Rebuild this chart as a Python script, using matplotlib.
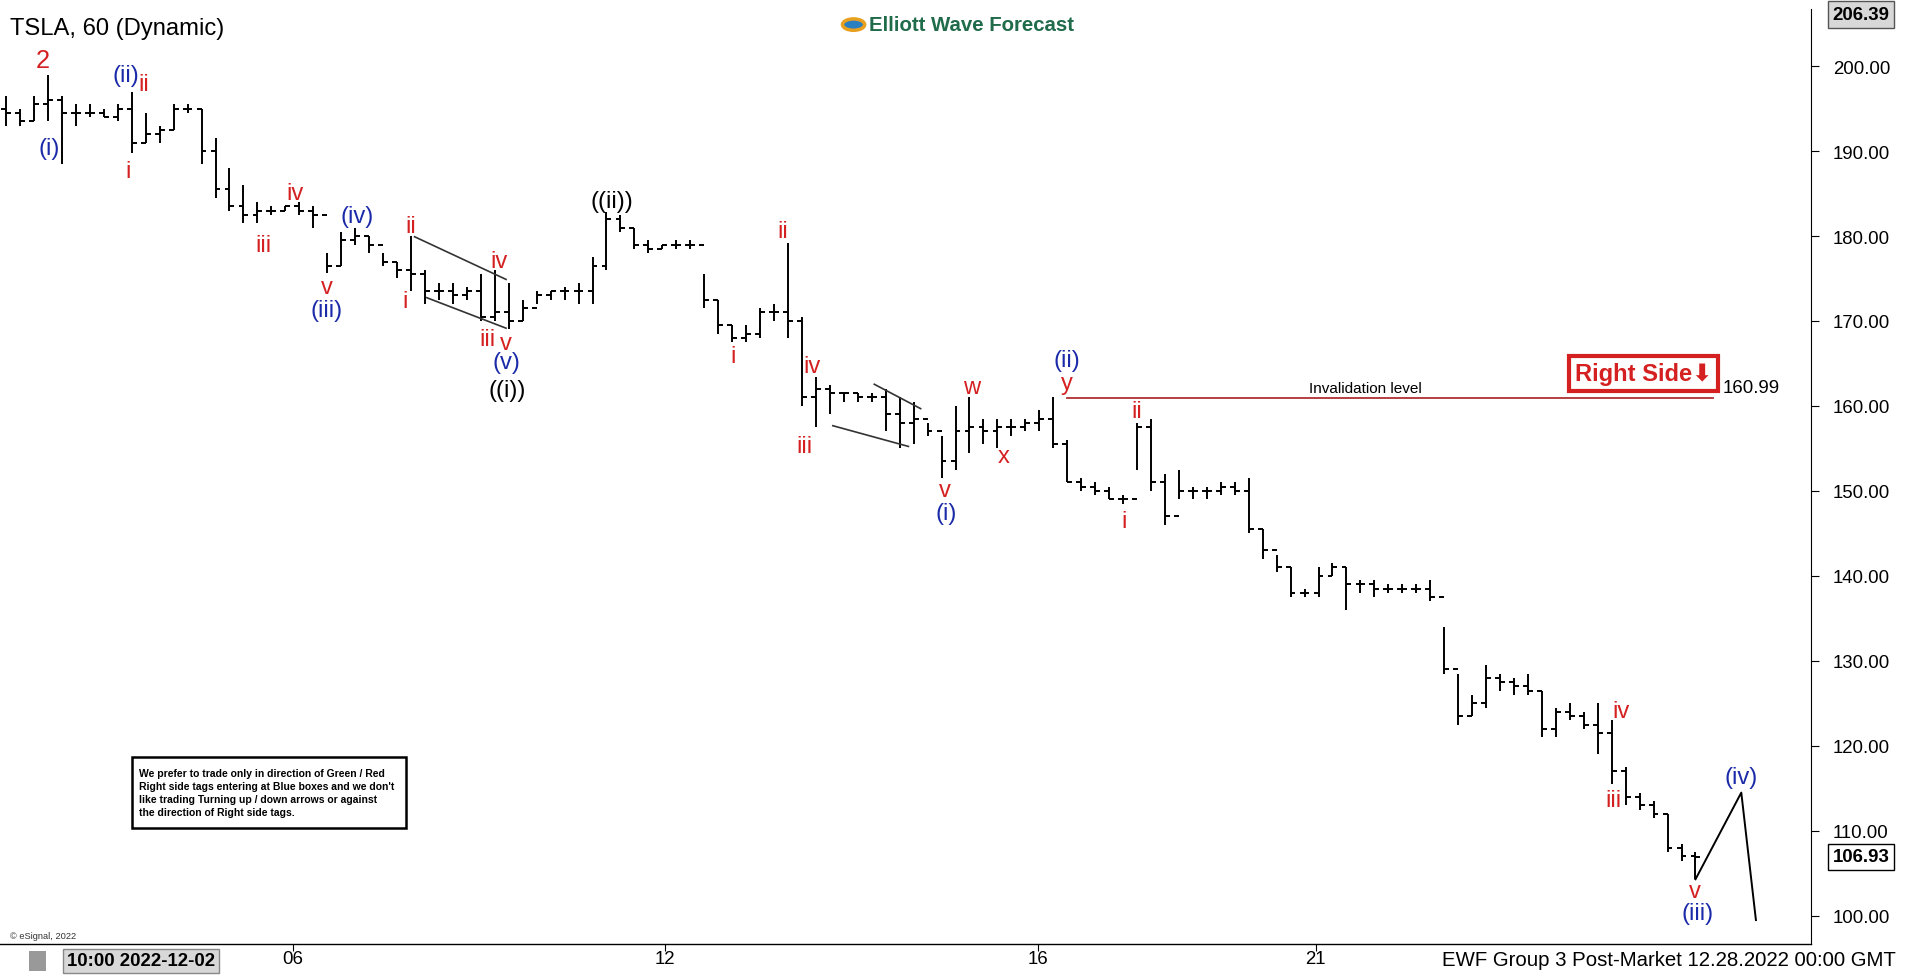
import matplotlib
matplotlib.use("Agg")
import matplotlib.pyplot as plt
from matplotlib.lines import Line2D
from matplotlib.patches import Rectangle

plt.rcParams['font.family'] = ['Liberation Sans', 'DejaVu Sans']

# ---- data (hourly bars) ----
highs = [196.5,195.0,196.5,199.0,196.5,195.5,195.5,195.0,195.5,197.0,194.5,193.0,195.5,195.5,195.0,191.5,188.0,186.0,184.0,183.5,183.5,184.0,183.5,178.0,180.5,181.0,180.0,178.0,177.0,180.0,176.0,174.5,174.5,174.0,175.5,176.0,174.5,172.5,173.5,173.5,174.0,174.5,177.5,182.8,182.5,181.0,179.5,179.0,179.5,179.5,175.5,172.5,169.5,169.5,171.5,172.0,179.2,170.5,163.4,162.5,161.5,161.5,161.5,162.0,161.0,160.5,158.0,156.5,160.0,161.0,158.5,158.5,158.5,158.5,159.5,161.0,156.0,151.5,151.0,150.5,149.5,158.0,158.5,152.0,152.5,150.5,150.5,151.0,151.0,151.5,145.5,142.5,141.0,138.5,141.0,141.5,141.0,139.5,139.5,139.0,139.0,139.0,139.5,134.0,128.5,126.0,129.5,128.5,128.0,128.5,126.5,124.5,125.0,124.0,125.0,123.0,117.5,114.5,113.5,112.0,108.5,107.5]
lows = [193.0,193.0,193.5,193.5,188.5,193.0,194.0,194.0,193.5,189.8,191.0,191.0,192.5,194.5,188.5,184.5,183.0,181.5,181.5,182.5,183.0,182.5,181.0,175.6,176.5,179.0,178.0,176.5,175.0,173.5,172.0,172.5,172.0,172.5,170.0,170.0,169.0,170.0,172.0,172.5,172.5,172.0,172.0,176.0,180.5,178.5,178.0,178.5,178.5,178.5,171.5,168.5,167.5,167.5,168.0,170.0,168.0,160.0,157.5,159.0,160.5,160.5,160.5,157.0,155.0,155.5,156.5,151.5,152.5,154.5,155.5,155.0,156.5,157.0,157.0,155.0,151.0,150.0,149.5,149.0,148.5,152.5,150.0,146.0,149.0,149.0,149.0,149.5,149.5,145.0,142.0,140.5,137.5,137.5,137.5,140.0,136.0,138.0,137.5,138.0,138.0,138.0,137.0,128.5,122.5,123.5,124.5,126.5,126.0,126.0,121.0,121.0,123.0,122.0,119.0,115.5,113.0,112.5,111.5,107.5,106.5,104.3]
closes = [194.5,193.5,195.5,196.0,194.5,194.5,194.5,194.0,195.0,191.0,192.0,192.5,195.0,195.0,190.0,185.5,183.5,182.5,183.0,183.0,183.5,183.0,182.5,176.5,179.5,180.0,179.0,177.0,176.0,175.5,173.5,173.5,173.0,173.5,170.5,171.0,170.0,171.5,173.0,173.5,173.5,173.5,176.5,182.0,181.0,179.0,178.5,179.0,179.0,179.0,172.5,169.5,168.0,168.5,171.0,171.0,170.0,161.0,162.0,161.5,161.5,161.0,161.0,159.0,158.0,158.5,157.0,153.5,157.0,157.5,157.0,157.5,157.5,158.0,158.5,155.5,151.0,150.5,150.0,149.0,149.0,157.5,151.0,147.0,150.0,150.0,150.0,150.5,150.0,145.5,143.0,141.0,138.0,138.0,140.0,141.0,139.0,139.0,138.5,138.5,138.5,138.5,137.5,129.0,123.5,125.0,128.0,127.5,127.0,126.5,122.0,124.0,123.5,122.5,121.5,117.0,114.0,113.0,112.0,108.0,107.0,106.93]
proj_prices = [104.3, 114.5, 99.5]
yticks = [100, 110, 120, 130, 140, 150, 160, 170, 180, 190, 200]
date_labels = ["06", "12", "16", "21"]
date_px = [240, 545, 851, 1079]
last_price = 106.93
top_price = 206.39
invalid_level = 160.99

# layout measured on a 1568x803 view of the 1912x979 chart
W, H = 1568, 803
S = 1912 / W
fig = plt.figure(figsize=(19.12, 9.79), dpi=100)
fig.patch.set_facecolor("white")
def fx(px): return px / W
def fy(py): return 1 - py / H
def fs(v): return v * S

ax_top, ax_bot, ax_right = 8, 775, 1485
ax = fig.add_axes([0, fy(ax_bot), fx(ax_right), (ax_bot-ax_top)/H])
n = len(closes)
x0, dx = 5, 11.45
def px2i(px): return (px - x0) / dx
def py2p(py): return 200 - (py - 55) / 6.97
ax.set_xlim(px2i(0), px2i(ax_right))
ax.set_ylim(py2p(ax_bot), py2p(ax_top))

idx = list(range(n))
opens = [closes[0] + 0.5] + closes[:-1]
lw = 1.4
ax.vlines(idx, lows, highs, color="black", lw=lw)
ax.hlines(opens, [i - 0.35 for i in idx], idx, color="black", lw=lw)
ax.hlines(closes, idx, [i + 0.35 for i in idx], color="black", lw=lw)

ax.plot([n - 1, px2i(1428), px2i(1440)], proj_prices, color="black", lw=lw)
ax.plot([76, px2i(1405)], [invalid_level, invalid_level], color="#b03030", lw=1.3)
ax.text(px2i(1120), invalid_level + 0.3, "Invalidation level", fontsize=fs(9), ha="center", va="bottom")

for s in ["top", "left", "bottom"]:
    ax.spines[s].set_visible(False)
ax.spines["right"].set_color("black")
ax.yaxis.tick_right()
ax.set_yticks(yticks)
ax.set_yticklabels([f"{v:.2f}" for v in yticks], fontsize=fs(11))
ax.tick_params(axis="y", length=6, pad=10)
ax.set_xticks([px2i(p) for p in date_px])
ax.set_xticklabels([])
ax.tick_params(axis="x", length=5)
ax.plot([px2i(0), px2i(ax_right)], [py2p(ax_bot)]*2, color="black", lw=1, clip_on=False)

for t, p in zip(date_labels, date_px):
    fig.text(fx(p), fy(787), t, fontsize=fs(11), ha="center", va="center")

ylo, yhi = py2p(ax_bot), py2p(ax_top)
ax.text(1.012, (top_price - ylo) / (yhi - ylo) - 0.003, f"{top_price:.2f}",
        transform=ax.transAxes, fontsize=fs(11), fontweight="bold", va="center", ha="left",
        bbox=dict(boxstyle="square,pad=0.25", fc="#d8d8d8", ec="#555555"))
ax.text(1.012, (last_price - ylo) / (yhi - ylo), f"{last_price:.2f}",
        transform=ax.transAxes, fontsize=fs(11), fontweight="bold", va="center", ha="left",
        bbox=dict(boxstyle="square,pad=0.25", fc="white", ec="black"))
fig.text(fx(1413), fy(319), f"{invalid_level:.2f}", fontsize=fs(11), va="center")

for (a, b) in [((340,195),(415,230)), ((350,245),(415,270)), ((717,316),(755,336)), ((683,350),(745,367))]:
    fig.add_artist(Line2D([fx(a[0]), fx(b[0])], [fy(a[1]), fy(b[1])], color="#333333", lw=1.2))

RED, BLUE = "#d42020", "#1a2aa8"
labels = [("2",35,50,RED,15),("(i)",40,122,BLUE,14),("(ii)",103,62,BLUE,14),("ii",118,70,RED,14),
          ("i",105,141,RED,14),("iii",216,202,RED,14),("iv",242,159,RED,14),("v",268,236,RED,14),
          ("(iii)",268,255,BLUE,14),("(iv)",293,178,BLUE,14),("ii",337,186,RED,14),("i",332,248,RED,14),
          ("iv",409,215,RED,14),("iii",400,279,RED,14),("v",415,282,RED,14),("(v)",415,298,BLUE,14),
          ("((i))",416,321,"black",14),("((ii))",502,166,"black",14),("ii",642,190,RED,14),
          ("i",601,293,RED,14),("iv",666,301,RED,14),("iii",660,367,RED,14),("w",797,318,RED,14),
          ("x",823,375,RED,14),("v",775,403,RED,14),("(i)",776,422,BLUE,14),("(ii)",875,296,BLUE,14),
          ("y",875,315,RED,14),("ii",932,338,RED,14),("i",922,428,RED,14),("iv",1329,584,RED,14),
          ("iii",1323,657,RED,14),("(iv)",1428,638,BLUE,14),("v",1390,732,RED,14),("(iii)",1392,750,BLUE,14)]
for t, x, y, c, s in labels:
    fig.text(fx(x), fy(y), t, color=c, fontsize=fs(s), ha="center", va="center")

fig.text(fx(8), fy(24), "TSLA, 60 (Dynamic)", fontsize=fs(14), va="center")
fig.text(fx(713), fy(21), "Elliott Wave Forecast", fontsize=fs(12), fontweight="bold", color="#1f6b4a", va="center")
fig.add_artist(plt.Circle((fx(700), fy(21)), 0.0058, transform=fig.transFigure, fc="#2a7fc0", ec="#e8a020", lw=2.5))

fig.text(fx(1348), fy(307), "Right Side\u2b07", fontsize=fs(14), fontweight="bold", color=RED, ha="center", va="center",
         bbox=dict(boxstyle="square,pad=0.25", fc="white", ec=RED, lw=3))

fig.add_artist(Rectangle((fx(108), fy(680)), fx(225), 58/H, transform=fig.transFigure, fc="white", ec="black", lw=1.8))
fig.text(fx(114), fy(651), "We prefer to trade only in direction of Green / Red\nRight side tags entering at Blue boxes and we don't\n"
         "like trading Turning up / down arrows or against\nthe direction of Right side tags.",
         fontsize=fs(6.1), fontweight="bold", va="center", linespacing=1.35)

fig.text(fx(8), fy(768), "\u00a9 eSignal, 2022", fontsize=fs(5.5), va="center", color="#333333")
fig.text(fx(55), fy(789), "10:00 2022-12-02", fontsize=fs(11), fontweight="bold", va="center",
         bbox=dict(boxstyle="square,pad=0.2", fc="#d8d8d8", ec="#888888"))
fig.add_artist(Rectangle((fx(24), fy(797)), 14/W, 16/H, transform=fig.transFigure, fc="#999999", ec="none"))
fig.text(fx(1555), fy(788), "EWF Group 3 Post-Market 12.28.2022 00:00 GMT", fontsize=fs(12), ha="right", va="center")

fig.savefig("out.png", dpi=100)
